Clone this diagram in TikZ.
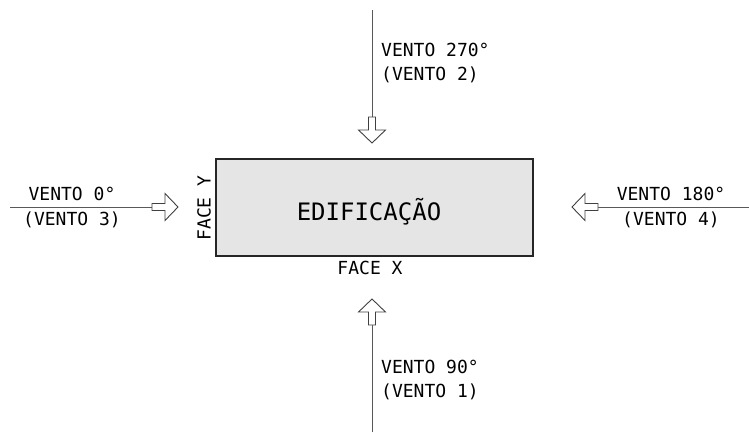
\documentclass[tikz,border=0pt]{standalone}
\usepackage{fontspec}
\setmainfont{DejaVu Sans Mono}
\begin{document}
\begin{tikzpicture}[x=1pt,y=-1pt,
  windline/.style={draw=black!65, line width=0.8pt},
  windtxt/.style={font=\fontsize{18}{24.5}\selectfont, text=black, inner sep=0pt},
  hollowarrow/.pic={\draw[black!75, line width=0.9pt, fill=white, line join=miter]
     (0,-3.5) -- (13,-3.5) -- (13,-13.5) -- (26,0) -- (13,13.5) -- (13,3.5) -- (0,3.5) -- cycle;}
]
\useasboundingbox (0,0) rectangle (749,432);
% building
\node[draw=black!85, line width=2pt, fill=black!10, minimum width=317pt, minimum height=97pt, inner sep=0pt] (bld) at (374.5,207.5) {};
\node[font=\fontsize{24}{28}\selectfont, text=black, inner sep=0pt] (bldtxt) at (369,212) {EDIFICAÇÃO};
\node[windtxt] (facex) at (370,268) {FACE X};
\node[windtxt, rotate=90] (facey) at (204,208) {FACE Y};
% coordinates
\coordinate (tstart) at (372,10);
\coordinate (ttail) at (372,117);
\coordinate (lstart) at (10,207);
\coordinate (ltail) at (152,207);
\coordinate (rstart) at (749,207);
\coordinate (rtail) at (598,207);
\coordinate (bstart) at (372,432);
\coordinate (btail) at (372,325);
% lines
\draw[windline] (tstart) -- (ttail);
\draw[windline] (lstart) -- (ltail);
\draw[windline] (rstart) -- (rtail);
\draw[windline] (bstart) -- (btail);
% hollow arrows
\pic[rotate=-90] at (ttail) {hollowarrow};
\pic at (ltail) {hollowarrow};
\pic[rotate=180] at (rtail) {hollowarrow};
\pic[rotate=90] at (btail) {hollowarrow};
% labels
\node[windtxt, anchor=west, align=left] (ttxt) at (381,63) {VENTO 270°\\(VENTO 2)};
\node[windtxt, align=center] (ltxt) at (72,207.5) {VENTO 0°\\(VENTO 3)};
\node[windtxt, align=center] (rtxt) at (671,207.5) {VENTO 180°\\(VENTO 4)};
\node[windtxt, anchor=west, align=left] (btxt) at (381,380) {VENTO 90°\\(VENTO 1)};
\end{tikzpicture}
\end{document}
